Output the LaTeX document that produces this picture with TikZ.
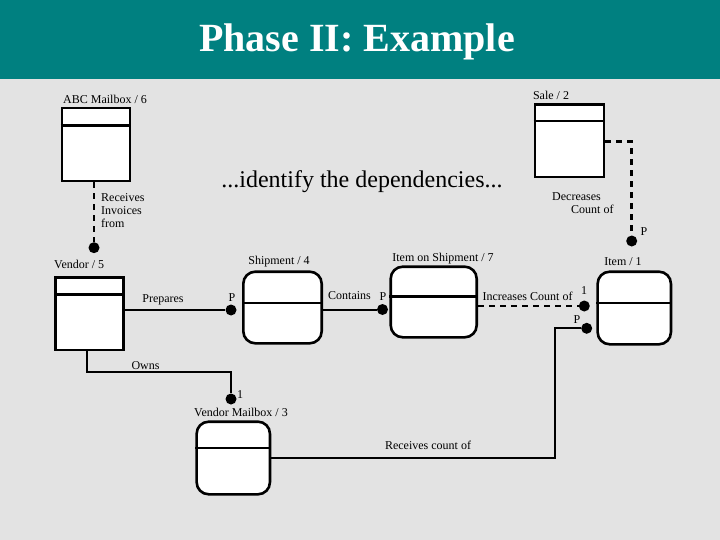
\documentclass[tikz,border=0pt]{standalone}
\usepackage{fontspec}
\setmainfont{Liberation Serif}
\usetikzlibrary{calc}
\definecolor{hdrteal}{RGB}{0,128,128}
\definecolor{bggray}{RGB}{227,227,227}
\begin{document}
\begin{tikzpicture}[x=1pt,y=-1pt,
  lbl/.style={inner sep=0pt,font=\fontsize{12}{13}\selectfont},
  sqbox/.style={draw,fill=white,line width=2.6pt,inner sep=0pt},
  rdbox/.style={sqbox,rounded corners=12pt},
  divline/.style={line width=2.4pt},
  conn/.style={line width=2pt},
  dconn/.style={line width=2.6pt,dash pattern=on 6pt off 5pt},
  dotnode/.style={circle,fill=black,inner sep=0pt,minimum size=11pt}]
\fill[bggray] (0,0) rectangle (720,540);
\useasboundingbox (0,0) rectangle (720,540);
\fill[hdrteal] (0,0) rectangle (720,79);
\node[inner sep=0pt,text=white,font=\fontsize{40}{44}\selectfont\bfseries] (title) at (357,42) {Phase II: Example};

% boxes
\node[sqbox,minimum width=68pt,minimum height=73pt] (abc) at (95.9,144.5) {};
\node[sqbox,minimum width=69pt,minimum height=72.7pt] (sale) at (569.3,140.7) {};
\node[sqbox,minimum width=68pt,minimum height=72.3pt] (vendor) at (89.7,313.8) {};
\node[rdbox,minimum width=78.4pt,minimum height=71.6pt] (ship) at (282.5,307.5) {};
\node[rdbox,minimum width=86pt,minimum height=70.6pt] (ios) at (433.7,302) {};
\node[rdbox,minimum width=73.3pt,minimum height=72.6pt] (item) at (634.3,308) {};
\node[rdbox,minimum width=73.3pt,minimum height=72.6pt] (vmb) at (233.3,458) {};

% dividers
\draw[divline] ($(abc.north west)+(0,18.7)$) -- ($(abc.north east)+(0,18.7)$);
\draw[divline] ($(sale.north west)+(0,18)$) -- ($(sale.north east)+(0,18)$);
\draw[divline] ($(vendor.north west)+(0,18)$) -- ($(vendor.north east)+(0,18)$);
\draw[divline] ($(ship.north west)+(0,32.6)$) -- ($(ship.north east)+(0,32.6)$);
\draw[divline] ($(ios.north west)+(0,31)$) -- ($(ios.north east)+(0,31)$);
\draw[divline] ($(item.north west)+(0,32.6)$) -- ($(item.north east)+(0,32.6)$);
\draw[divline] ($(vmb.north west)+(0,27.3)$) -- ($(vmb.north east)+(0,27.3)$);

% dots
\node[dotnode] (d1) at (94,247.7) {};
\node[dotnode] (d2) at (631.7,241) {};
\node[dotnode] (d3) at (231,310) {};
\node[dotnode] (d4) at (382.5,309.5) {};
\node[dotnode] (d5) at (584.3,306) {};
\node[dotnode] (d6) at (586.7,328.3) {};
\node[dotnode] (d7) at (231,399) {};

% connector corners
\coordinate (c2) at (631.7,141.7);
\coordinate (c6a) at (555,328.3);
\coordinate (c6b) at (555,457.5);
\coordinate (c7a) at (87.3,371.7);
\coordinate (c7b) at (231,371.7);

% connectors
\draw[dconn] (d1 |- abc.south) -- (d1);
\draw[dconn] (c2 -| sale.east) -- (c2) -- (d2);
\draw[conn] (vendor.east |- d3) -- (d3);
\draw[conn] (ship.east |- d4) -- (d4);
\draw[dconn] (ios.east |- d5) -- (d5);
\draw[conn] (d6) -- (c6a) -- (c6b) -- (c6b -| vmb.east);
\draw[conn] (c7a |- vendor.south) -- (c7a) -- (c7b) -- (d7);

% labels
\node[lbl,anchor=west] (labc) at (63,99) {ABC Mailbox / 6};
\node[lbl,anchor=west,align=left] (lrec) at (101,211) {Receives\\Invoices\\from};
\node[lbl] (lsale) at (551,95) {Sale / 2};
\node[inner sep=0pt,font=\fontsize{24}{26}\selectfont] (lident) at (362,182) {...identify the dependencies...};
\node[lbl,anchor=west,align=left] (ldec) at (552,203) {Decreases\\\hspace*{19pt}Count of};
\node[lbl] (lp2) at (644,232) {P};
\node[lbl,anchor=west] (lvendor) at (54,264) {Vendor / 5};
\node[lbl] (lship) at (279,262) {Shipment / 4};
\node[lbl] (lios) at (443,259) {Item on Shipment / 7};
\node[lbl] (litem) at (623,262) {Item / 1};
\node[lbl] (lprep) at (163,300) {Prepares};
\node[lbl] (lp3) at (232,298) {P};
\node[lbl] (lcont) at (349.5,296) {Contains};
\node[lbl] (lp4) at (383,296.5) {P};
\node[lbl] (linc) at (527.5,296) {Increases Count of};
\node[lbl] (l15) at (584,291) {1};
\node[lbl] (lp6) at (577,320) {P};
\node[lbl] (lowns) at (145.5,366) {Owns};
\node[lbl] (l17) at (240,395) {1};
\node[lbl] (lvmb) at (241,412) {Vendor Mailbox / 3};
\node[lbl] (lrcv) at (428,445) {Receives count of};
\end{tikzpicture}
\end{document}
